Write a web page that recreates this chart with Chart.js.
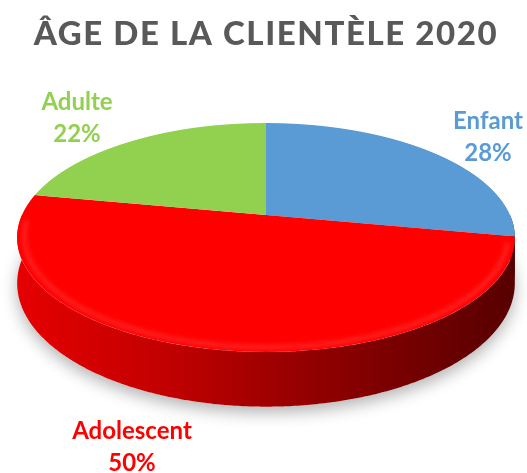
<!DOCTYPE html>
<html>
<head>
<meta charset="utf-8">
<script src="https://cdn.jsdelivr.net/npm/chart.js@4.4.0/dist/chart.umd.min.js"></script>
<style>
  html,body{margin:0;padding:0;background:#fff}
  #wrap{width:527px;height:473px}
</style>
</head>
<body>
<div id="wrap"><canvas id="pieChart"></canvas></div>
<script>
// data
const categories = ["Enfant", "Adolescent", "Adulte"];
const values = [28, 50, 22];
const sliceColors = ["#5b9bd5", "#ff0000", "#92d050"];
const titleText = "ÂGE DE LA CLIENTÈLE 2020";

// perspective view of the disc: centre, half width, vertical factor, tilt, thickness
const VIEW = { cx: 266, cy: 215, k: 244, m: 110, p: -0.1965, D: 44 };
// first-line centre of each data label
const LABEL_POS = [[488, 121], [132, 431], [77, 102]];

function project(u, v){
  const w = 1 + VIEW.p * v;
  return [VIEW.cx + VIEW.k * u / w, VIEW.cy + VIEW.m * v / w, VIEW.D / w];
}

function shade(hex, f){
  const n = parseInt(hex.slice(1), 16);
  const r = Math.round(((n >> 16) & 255) * f), g = Math.round(((n >> 8) & 255) * f), b = Math.round((n & 255) * f);
  return `rgb(${r},${g},${b})`;
}

function rimPath(ctx, a, b, withSide){
  const n = Math.max(2, Math.ceil((b - a) / 0.01));
  const pts = [];
  for (let j = 0; j <= n; j++){
    const th = a + (b - a) * j / n;
    pts.push(project(Math.cos(th), Math.sin(th)));
  }
  ctx.beginPath();
  pts.forEach(([x, y], j) => j ? ctx.lineTo(x, y) : ctx.moveTo(x, y));
  if (withSide){
    for (let j = pts.length - 1; j >= 0; j--) ctx.lineTo(pts[j][0], pts[j][1] + pts[j][2]);
    ctx.closePath();
  }
}

const pie3d = {
  id: "pie3d",
  beforeDatasetsDraw(chart){
    const ctx = chart.ctx, arcs = chart.getDatasetMeta(0).data;
    const colors = chart.data.datasets[0].backgroundColor;

    // soft shadow under the disc (bottom rim)
    ctx.save();
    ctx.shadowColor = "rgba(0,0,0,0.3)"; ctx.shadowBlur = 16; ctx.shadowOffsetY = 6;
    ctx.fillStyle = "#fff";
    ctx.beginPath();
    for (let j = 0; j <= 200; j++){
      const th = j / 200 * Math.PI * 2;
      const [x, y, d] = project(Math.cos(th), Math.sin(th));
      j ? ctx.lineTo(x, y + d) : ctx.moveTo(x, y + d);
    }
    ctx.closePath(); ctx.fill();
    ctx.restore();

    // side walls, front half only
    arcs.forEach((arc, i) => {
      const a = Math.max(arc.startAngle, 0), b = Math.min(arc.endAngle, Math.PI);
      if (b <= a) return;
      const g = ctx.createLinearGradient(VIEW.cx - 250, 0, VIEW.cx + 250, 0);
      g.addColorStop(0, shade(colors[i], 0.9));
      g.addColorStop(0.3, shade(colors[i], 0.76));
      g.addColorStop(0.55, shade(colors[i], 0.6));
      g.addColorStop(0.8, shade(colors[i], 0.45));
      g.addColorStop(1, shade(colors[i], 0.34));
      rimPath(ctx, a, b, true);
      ctx.fillStyle = g;
      ctx.fill();
    });

    // top face: the library's arcs, redrawn row by row with the local perspective scale
    const arc0 = arcs[0], R = arc0.outerRadius;
    const yTop = Math.floor(project(0, -1)[1]) - 1, yBot = Math.ceil(project(0, 1)[1]) + 1;
    for (let y = yTop; y < yBot; y++){
      const t = y + 0.5 - VIEW.cy;
      const v0 = t / (VIEW.m - VIEW.p * t);
      const w = 1 + VIEW.p * v0;
      ctx.save();
      ctx.beginPath(); ctx.rect(0, y, chart.width, 1); ctx.clip();
      ctx.translate(VIEW.cx, y + 0.5);
      ctx.scale(VIEW.k / w / R, VIEW.m / (w * w) / R);
      ctx.translate(-arc0.x, -(arc0.y + v0 * R));
      arcs.forEach(a => a.draw(ctx));
      ctx.restore();
    }

    // soft bevel light along the front rim
    ctx.save();
    ctx.beginPath();
    for (let j = 0; j <= 120; j++){
      const th = 0.25 + (Math.PI - 0.3) * j / 120;
      const [x, y] = project(0.972 * Math.cos(th), 0.972 * Math.sin(th));
      j ? ctx.lineTo(x, y) : ctx.moveTo(x, y);
    }
    ctx.strokeStyle = "rgba(255,170,170,0.22)";
    ctx.lineWidth = 4;
    ctx.filter = "blur(2px)";
    ctx.stroke();
    ctx.restore();
    return false;
  },
  afterDraw(chart){
    const ctx = chart.ctx;
    ctx.save();
    ctx.textAlign = "center";
    ctx.textBaseline = "middle";

    // title
    ctx.font = "900 33px Lato";
    ctx.letterSpacing = "1.6px";
    ctx.fillStyle = "#595959";
    ctx.fillText(titleText, 266, 34);
    ctx.letterSpacing = "0px";

    // data labels
    const total = values.reduce((s, v) => s + v, 0);
    ctx.font = "bold 24px Lato";
    categories.forEach((c, i) => {
      const [x, y] = LABEL_POS[i];
      ctx.fillStyle = sliceColors[i];
      ctx.fillText(c, x, y);
      ctx.fillText(Math.round(values[i] / total * 100) + "%", x, y + 32);
    });
    ctx.restore();
  }
};

new Chart(document.getElementById("pieChart"), {
  type: "pie",
  data: {
    labels: categories,
    datasets: [{ data: values, backgroundColor: sliceColors, borderWidth: 0, clip: false }]
  },
  options: {
    responsive: true,
    maintainAspectRatio: false,
    animation: false,
    events: [],
    layout: { padding: { top: 60, bottom: 80, left: 60, right: 60 } },
    plugins: {
      legend: { display: false },
      tooltip: { enabled: false },
      title: { display: false }
    }
  },
  plugins: [pie3d]
});
</script>
</body>
</html>
